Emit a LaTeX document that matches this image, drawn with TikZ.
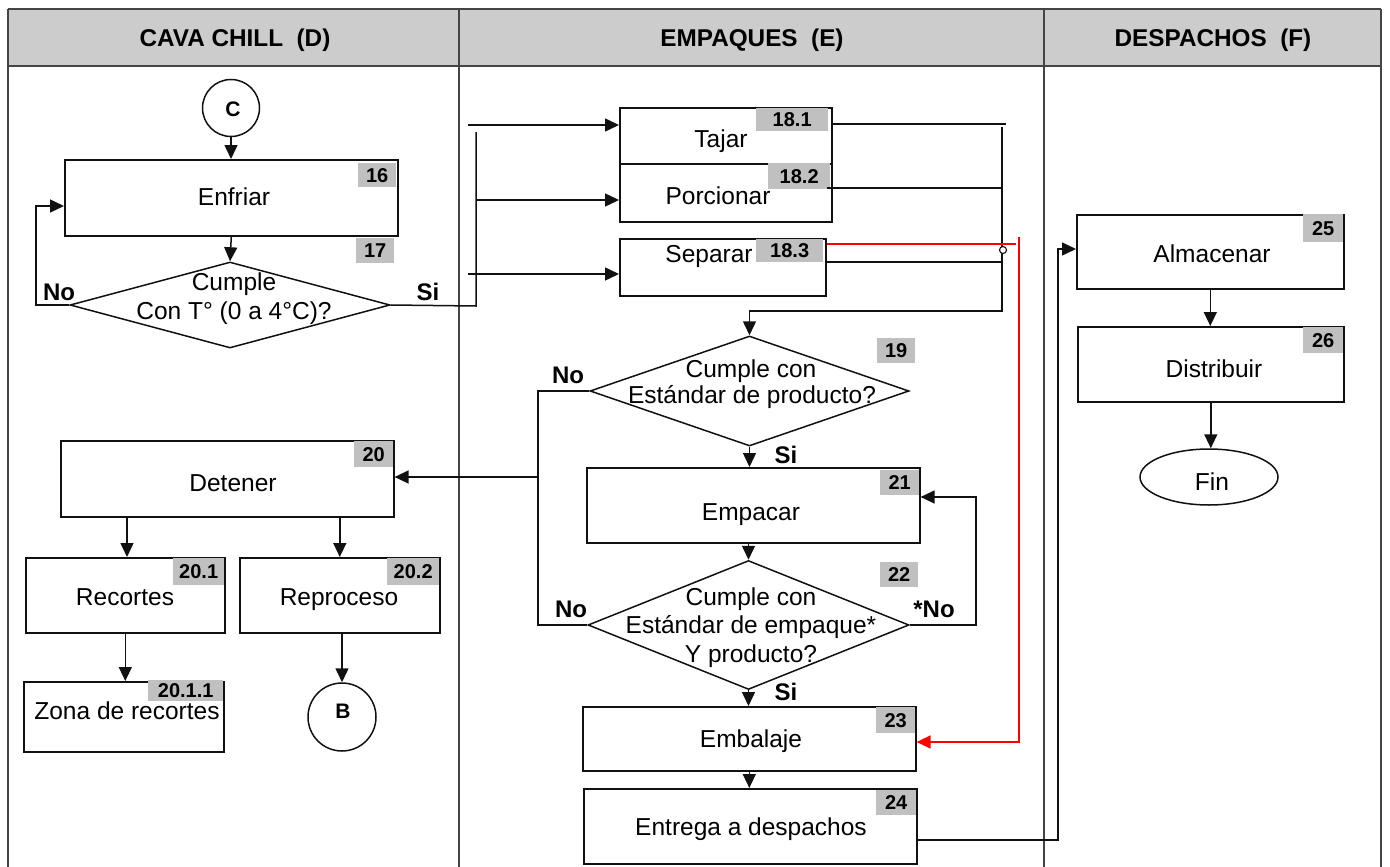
\documentclass[tikz,border=0pt]{standalone}
\usepackage{fontspec}
\setmainfont{Liberation Sans}
\usetikzlibrary{shapes.geometric,arrows.meta,calc}
\definecolor{hdrgray}{HTML}{CCCCCC}
\definecolor{bdggray}{HTML}{C0C0C0}
\definecolor{gridc}{HTML}{444444}
\definecolor{linec}{HTML}{111111}
\definecolor{redc}{HTML}{FF0000}
\begin{document}
\begin{tikzpicture}[x=1pt,y=-1pt,
  ln/.style={line width=1.5pt, draw=linec},
  arr/.style={ln, -{Triangle[length=14pt,width=13pt]}},
  redarr/.style={line width=1.5pt, draw=redc, -{Triangle[length=14pt,width=13pt]}, color=redc},
  gridln/.style={line width=1.5pt, draw=gridc},
  box/.style={draw=linec, line width=1.6pt, inner sep=0pt, anchor=north west},
  bdg/.style={fill=bdggray, inner sep=0pt, anchor=north west, font=\fontsize{20}{24}\selectfont\bfseries},
  txt/.style={inner sep=0pt, anchor=base, font=\fontsize{24.5}{29}\selectfont},
  lbl/.style={inner sep=0pt, anchor=base, font=\fontsize{24}{28}\selectfont\bfseries},
  circlbl/.style={inner sep=0pt, anchor=base, font=\fontsize{21}{25}\selectfont\bfseries},
  hdr/.style={inner sep=0pt, anchor=base, font=\fontsize{24.3}{28}\selectfont\bfseries},
  dia/.style={diamond, draw=linec, line width=1.5pt, inner sep=0pt},
  conn/.style={circle, draw=linec, line width=1.5pt, inner sep=0pt},
]
\useasboundingbox (0,0) rectangle (1390,867);
% ---- swimlane grid ----
\fill[hdrgray] (8,9) rectangle (1381,66);
\draw[gridln] (8,9) -- (1381,9);
\draw[gridln] (8,66) -- (1381,66);
\draw[gridln] (8,9) -- (8,867);
\draw[gridln] (459,9) -- (459,867);
\draw[gridln] (1044,9) -- (1044,867);
\draw[gridln] (1381,9) -- (1381,867);
\node[hdr] (h1) at (235,47) {CAVA CHILL~~(D)};
\node[hdr] (h2) at (752,47) {EMPAQUES~~(E)};
\node[hdr] (h3) at (1213,47) {DESPACHOS~~(F)};

% ---- CAVA CHILL ----
\node[conn, minimum size=57pt] (C) at (231,108) {};
\node[circlbl] (Ct) at (233,117) {C};
\node[box, minimum width=333pt, minimum height=76pt] (enf) at (64,159) {};
\node[txt] (enft) at (234,205) {Enfriar};
\node[bdg, minimum width=38pt, minimum height=24pt] (b16) at (358,163) {16};
\node[bdg, minimum width=38pt, minimum height=25pt] (b17) at (356,238) {17};
\node[dia, minimum width=320pt, minimum height=86pt] (d17) at (230,305) {};
\node[txt] (d17t1) at (234,290) {Cumple};
\node[txt] (d17t2) at (234,319) {Con T° (0 a 4°C)?};
\node[lbl] (no17) at (59,300) {No};
\node[lbl] (si17) at (428,300) {Si};

\node[box, minimum width=333pt, minimum height=76pt] (det) at (60,440) {};
\node[txt] (dett) at (233,491) {Detener};
\node[bdg, minimum width=39pt, minimum height=26pt] (b20) at (354,441) {20};
\node[box, minimum width=199pt, minimum height=75pt] (rec) at (25,557) {};
\node[txt] (rect) at (125,605) {Recortes};
\node[bdg, minimum width=51pt, minimum height=27pt] (b201) at (173,558) {20.1};
\node[box, minimum width=200pt, minimum height=75pt] (rep) at (239,557) {};
\node[txt] (rept) at (339,605) {Reproceso};
\node[bdg, minimum width=52pt, minimum height=27pt] (b202) at (387,558) {20.2};
\node[box, minimum width=200pt, minimum height=70pt] (zon) at (23,681) {};
\node[bdg, minimum width=75pt, minimum height=21pt] (b2011) at (148,680) {20.1.1};
\node[txt] (zont) at (127,719) {Zona de recortes};
\node[conn, minimum size=68pt] (B) at (342,717) {};
\node[circlbl] (Bt) at (343,718) {B};

% ---- EMPAQUES ----
\node[box, minimum width=212pt, minimum height=56pt] (taj) at (619,107) {};
\node[bdg, minimum width=72pt, minimum height=23pt] (b181) at (756,108) {18.1};
\node[txt] (tajt) at (721,147) {Tajar};
\node[box, minimum width=212pt, minimum height=58pt] (por) at (619,163) {};
\node[bdg, minimum width=62pt, minimum height=26pt] (b182) at (768,163) {18.2};
\node[txt] (port) at (718,204) {Porcionar};
\node[box, minimum width=206pt, minimum height=57pt] (sep) at (619,238) {};
\node[bdg, minimum width=67pt, minimum height=23pt] (b183) at (756,239) {18.3};
\node[txt] (sept) at (709,262) {Separar};

\node[dia, minimum width=319pt, minimum height=110pt] (d19) at (749.5,391) {};
\node[txt] (d19t1) at (751,377) {Cumple con};
\node[txt] (d19t2) at (752,403) {Estándar de producto?};
\node[bdg, minimum width=38pt, minimum height=25pt] (b19) at (877,338) {19};
\node[lbl] (no19) at (568,383) {No};
\node[lbl] (si19) at (786,463) {Si};

\node[box, minimum width=333pt, minimum height=75pt] (emp) at (586,467) {};
\node[txt] (empt) at (751,520) {Empacar};
\node[bdg, minimum width=39pt, minimum height=25pt] (b21) at (880,470) {21};

\node[dia, minimum width=321pt, minimum height=129pt] (d22) at (748.5,625) {};
\node[txt] (d22t1) at (751,605) {Cumple con};
\node[txt] (d22t2) at (751,633) {Estándar de empaque*};
\node[txt] (d22t3) at (751,662) {Y producto?};
\node[bdg, minimum width=38pt, minimum height=25pt] (b22) at (880,562) {22};
\node[lbl] (no22) at (571,617) {No};
\node[lbl] (sno22) at (934,617) {*No};
\node[lbl] (si22) at (786,700) {Si};

\node[box, minimum width=333pt, minimum height=64pt] (emb) at (582,706) {};
\node[txt] (embt) at (751,747) {Embalaje};
\node[bdg, minimum width=39pt, minimum height=26pt] (b23) at (876,707) {23};
\node[box, minimum width=333pt, minimum height=75pt] (ent) at (583,788) {};
\node[txt] (entt) at (751,835) {Entrega a despachos};
\node[bdg, minimum width=40pt, minimum height=25pt] (b24) at (876,790) {24};

% ---- DESPACHOS ----
\node[box, minimum width=267pt, minimum height=74pt] (alm) at (1076,214) {};
\node[txt] (almt) at (1212,262) {Almacenar};
\node[bdg, minimum width=40pt, minimum height=28pt] (b25) at (1303,214) {25};
\node[box, minimum width=266pt, minimum height=75pt] (dis) at (1077,326) {};
\node[txt] (dist) at (1214,377) {Distribuir};
\node[bdg, minimum width=40pt, minimum height=26pt] (b26) at (1303,327) {26};
\node[ellipse, draw=linec, line width=1.5pt, inner sep=0pt, minimum width=138pt, minimum height=56pt] (fin) at (1209,477) {};
\node[txt] (fint) at (1212,490) {Fin};

% ---- connectors: CAVA CHILL ----
\draw[arr] (C) -- (C |- enf.north);
\draw[arr] (enf.south) -- (d17.north);
\coordinate (n17a) at (36,305);
\coordinate (n17b) at (36,206);
\draw[arr] (d17.west) -- (n17a) -- (n17b) -- (n17b -| enf.west);
\coordinate (s17a) at (476,306);
\coordinate (s17b) at (476,132);
\draw[ln] (d17.east) -- (s17a) -- (s17b);
\coordinate (t1) at (468,125);
\coordinate (t2) at (476,200);
\coordinate (t3) at (468,274);
\draw[arr] (t1) -- (t1 -| taj.west);
\draw[arr] (t2) -- (t2 -| por.west);
\draw[arr] (t3) -- (t3 -| sep.west);

\coordinate (dx1) at (127,0);
\draw[arr] (det.south -| dx1) -- (rec.north -| dx1);
\draw[arr] (det.south -| rep.north) -- (rep.north);
\draw[arr] (rec.south) -- (rec.south |- zon.north);
\draw[arr] (rep.south -| B.north) -- (B.north);

% ---- connectors: EMPAQUES ----
\coordinate (r1) at (1006,124);
\coordinate (rv1) at (1002,127);
\coordinate (rv2) at (1002,311);
\coordinate (r2) at (1002,188);
\coordinate (r3) at (1002,262);
\draw[ln] (r1 -| taj.east) -- (r1);
\draw[ln] (827,188) -- (r2);
\draw[ln] (827,262) -- (r3);
\draw[arr] (rv1) -- (rv2) -- (rv2 -| d19.north) -- (d19.north);
\coordinate (red1) at (827,244);
\coordinate (red2) at (1019,244);
\coordinate (red3) at (1019,742);
\draw[line width=1.5pt, draw=redc] (red1) -- (1016,244);
\draw[redarr] (1019,237) -- (red3) -- (red3 -| emb.east);
\node[circle, draw=linec, fill=white, line width=1.1pt, inner sep=0pt, minimum size=7pt] (jc) at (1003,250) {};

\coordinate (n19a) at (538,391);
\coordinate (n19b) at (538,625);
\draw[ln] (d19.west) -- (n19a) -- (n19b) -- (d22.west);
\coordinate (n20) at (538,477);
\draw[arr] (n20) -- (n20 -| det.east);
\draw[arr] (d19.south) -- (d19.south |- emp.north);
\draw[arr] (d22.north |- emp.south) -- (d22.north);
\coordinate (n22a) at (976,625);
\coordinate (n22b) at (976,497);
\draw[arr] (d22.east) -- (n22a) -- (n22b) -- (n22b -| emp.east);
\draw[arr] (d22.south) -- (d22.south |- emb.north);
\draw[arr] (emb.south) -- (emb.south |- ent.north);
\coordinate (e1) at (1058,840);
\coordinate (e2) at (1058,249);
\draw[arr] (e1 -| ent.east) -- (e1) -- (e2) -- (e2 -| alm.west);

% ---- connectors: DESPACHOS ----
\draw[arr] (alm.south) -- (alm.south |- dis.north);
\draw[arr] (dis.south) -- (dis.south |- fin.north);
\end{tikzpicture}
\end{document}
